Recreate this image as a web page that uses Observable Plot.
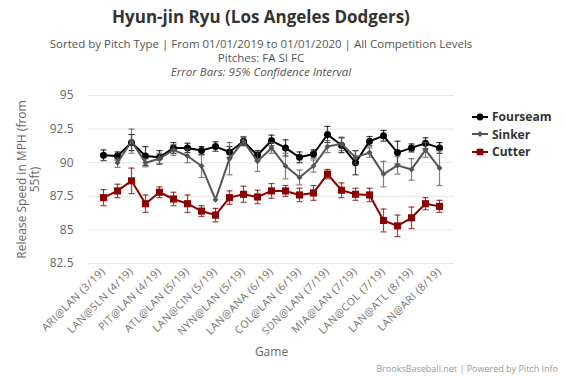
<!DOCTYPE html>
<html>
<head>
<meta charset="utf-8">
<script src="https://cdn.jsdelivr.net/npm/d3@7"></script>
<script src="https://cdn.jsdelivr.net/npm/@observablehq/plot@0.6"></script>
<style>
  body { margin: 0; background: #fff; font-family: "Open Sans", sans-serif; }
  #wrap { position: relative; width: 566px; height: 377px; overflow: hidden; }
  #titles { height: 80px; width: 522px; text-align: center; }
  #title { padding-top: 5px; font-size: 17px; font-weight: bold; color: #333; line-height: 24px; }
  #sub { margin-top: 8px; font-size: 11.5px; color: #555; line-height: 14px; }
  #legend { position: absolute; left: 472px; top: 108px; font-size: 12px; font-weight: bold; color: #333; }
  .item { height: 17.5px; display: flex; align-items: center; }
  .item svg { margin-right: 4px; }
  #credits { position: absolute; right: 8px; top: 362px; font-size: 9px; color: #999; }
  #chart svg { overflow: visible; }
  #chart g[aria-label="x-axis tick label"] text { letter-spacing: 0.6px; }
</style>
</head>
<body>
<div id="wrap">
  <div id="titles">
    <div id="title">Hyun-jin Ryu (Los Angeles Dodgers)</div>
    <div id="sub">Sorted by Pitch Type | From 01/01/2019 to 01/01/2020 | All Competition Levels<br>Pitches: FA SI FC<br><i>Error Bars: 95% Confidence Interval</i></div>
  </div>
  <div id="chart"></div>
  <div id="legend"></div>
  <div id="credits">BrooksBaseball.net | Powered by Pitch Info</div>
</div>
<script>
const games = [
  "ARI@LAN (3/19)", "LAN@SFN (4/19)", "LAN@SLN (4/19)", "LAN@MIL (4/19)", "PIT@LAN (4/19)",
  "SFN@LAN (5/19)", "ATL@LAN (5/19)", "WAS@LAN (5/19)", "LAN@CIN (5/19)", "LAN@PIT (5/19)",
  "NYN@LAN (5/19)", "ARI@LAN (6/19)", "LAN@ANA (6/19)", "CHN@LAN (6/19)", "COL@LAN (6/19)",
  "LAN@COL (6/19)", "SDN@LAN (7/19)", "LAN@BOS (7/19)", "MIA@LAN (7/19)", "PHI@LAN (7/19)",
  "LAN@COL (7/19)", "ARI@LAN (8/19)", "LAN@ATL (8/19)", "LAN@NYA (8/19)", "LAN@ARI (8/19)"
];
const tickLabels = games.filter((d, i) => i % 2 === 0);
const yTicks = [82.5, 85, 87.5, 90, 92.5, 95];

const seriesNames = ["Fourseam", "Sinker", "Cutter"];
const seriesColors = ["#000000", "#555555", "#8b0000"];
const seriesSymbols = ["circle", "diamond2", "square"];

const fourseam = [90.55, 90.5, 91.5, 90.5, 90.4, 91.1, 91.1, 90.9, 91.2, 90.8, 91.6, 90.55, 91.65, 91.1, 90.4, 90.65, 92.1, 91.3, 90.0, 91.6, 92.0, 90.75, 91.1, 91.45, 91.1];
const fourseamErr = [0.4, 0.3, 0.6, 0.7, 0.5, 0.4, 0.35, 0.3, 0.35, 0.4, 0.3, 0.35, 0.4, 0.6, 0.4, 0.3, 0.6, 0.55, 0.9, 0.35, 0.4, 0.85, 0.3, 0.4, 0.4];
const sinker = [null, 90.0, 91.6, 90.0, 90.3, 90.95, 90.5, 89.75, 87.25, 90.3, 91.6, 90.1, 91.1, 89.75, 88.9, 89.75, 91.2, 91.4, 90.4, 90.75, 89.15, 89.8, 89.5, 90.95, 89.6];
const sinkerErr = [null, 0.35, 0.9, 0.3, 0.4, 0.4, 0.5, 0.85, 0, 1.2, 0.35, 0.75, 0.4, 0.95, 0.55, 0.45, 0.45, 0.5, 0.5, 0.35, 0.95, 0.65, 0.8, 0.55, 1.3];
const cutter = [87.4, 87.9, 88.65, 86.95, 87.8, 87.3, 86.95, 86.4, 86.1, 87.4, 87.65, 87.45, 87.9, 87.9, 87.6, 87.75, 89.15, 87.95, 87.65, 87.6, 85.7, 85.3, 85.9, 86.95, 86.75];
const cutterErr = [0.6, 0.5, 0.95, 0.65, 0.4, 0.5, 0.65, 0.4, 0.5, 0.5, 0.6, 0.5, 0.55, 0.4, 0.5, 0.55, 0.35, 0.55, 0.45, 0.5, 0.85, 0.8, 0.8, 0.45, 0.45];

const values = [fourseam, sinker, cutter];
const errs = [fourseamErr, sinkerErr, cutterErr];

// horizontal cap symbol for error bars
const capSymbol = {draw(ctx) { ctx.moveTo(-3, 0); ctx.lineTo(3, 0); }};

const seriesMarks = [];
seriesNames.forEach((name, s) => {
  const rows = games.map((g, i) => ({game: g, v: values[s][i], lo: values[s][i] - errs[s][i], hi: values[s][i] + errs[s][i]}))
    .filter(d => d.v != null);
  const eb = rows.filter(d => d.hi > d.lo);
  const color = seriesColors[s];
  seriesMarks.push(
    Plot.ruleX(eb, {x: "game", y1: "lo", y2: "hi", stroke: color, strokeWidth: 1.2, strokeOpacity: 0.75}),
    Plot.dot(eb, {x: "game", y: "lo", symbol: capSymbol, fill: "none", stroke: color, strokeWidth: 1.2, strokeOpacity: 0.75}),
    Plot.dot(eb, {x: "game", y: "hi", symbol: capSymbol, fill: "none", stroke: color, strokeWidth: 1.2, strokeOpacity: 0.75}),
    Plot.line(rows, {x: "game", y: "v", stroke: color, strokeWidth: 2}),
    Plot.dot(rows, {x: "game", y: "v", fill: color, stroke: "none", symbol: seriesSymbols[s], r: s === 0 ? 3.5 : (s === 1 ? 2.7 : 4)})
  );
});

const chart = Plot.plot({
  width: 566,
  height: 297,
  marginTop: 15,
  marginBottom: 114,
  marginLeft: 88,
  marginRight: 112,
  style: {fontFamily: "Open Sans, sans-serif", color: "#666", background: "transparent", overflow: "visible"},
  x: {type: "point", domain: games, padding: 0.5, label: null},
  y: {domain: [82.5, 95], label: null},
  marks: [
    Plot.gridY(yTicks, {stroke: "#e6e6e6", strokeOpacity: 1}),
    Plot.axisY(yTicks, {tickSize: 0, tickPadding: 15, fontSize: 12, tickFormat: d => String(d), fill: "#666"}),
    Plot.axisX(tickLabels, {tickSize: 0, tickRotate: -45, tickPadding: 6, fontSize: 10.5, fill: "#707070", label: null}),
    Plot.text(["Game"], {frameAnchor: "bottom", dy: 92, fontSize: 12, fill: "#666"}),
    Plot.text(["Release Speed in MPH (from\n55ft)"], {frameAnchor: "left", textAnchor: "middle", rotate: -90, dx: -60, fontSize: 12, fill: "#666", lineHeight: 1.05}),
    ...seriesMarks
  ]
});
document.getElementById("chart").appendChild(chart);

const legend = document.getElementById("legend");
seriesNames.forEach((name, s) => {
  const item = document.createElement("div");
  item.className = "item";
  const svg = d3.create("svg").attr("width", 16).attr("height", 10);
  svg.append("line").attr("x1", 0).attr("x2", 16).attr("y1", 5).attr("y2", 5).attr("stroke", seriesColors[s]).attr("stroke-width", 2);
  const symType = s === 0 ? d3.symbolCircle : (s === 1 ? d3.symbolDiamond2 : d3.symbolSquare);
  const size = s === 0 ? 36 : (s === 1 ? 22 : 44);
  svg.append("path").attr("d", d3.symbol(symType, size)()).attr("transform", "translate(8,5)").attr("fill", seriesColors[s]);
  item.appendChild(svg.node());
  const t = document.createElement("span");
  t.textContent = name;
  item.appendChild(t);
  legend.appendChild(item);
});
</script>
</body>
</html>
